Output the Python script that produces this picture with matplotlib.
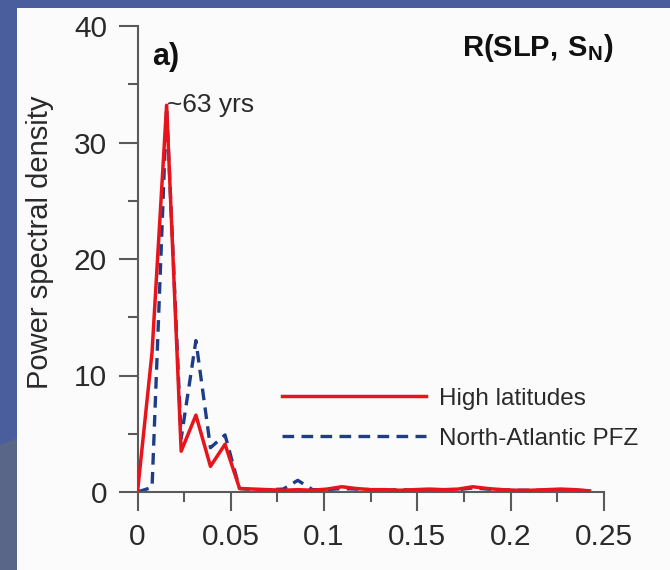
import matplotlib.pyplot as plt
from matplotlib.patches import Rectangle, Polygon

plt.rcParams['font.family'] = ['Liberation Sans', 'DejaVu Sans']
plt.rcParams['mathtext.fontset'] = 'custom'
plt.rcParams['mathtext.rm'] = 'Liberation Sans'
plt.rcParams['mathtext.bf'] = 'Liberation Sans:bold'

# frequency grid (cycles per year) and spectra
freq = [0.0, 0.0078, 0.0156, 0.0234, 0.0313, 0.0391, 0.0469, 0.0547,
        0.0625, 0.0703, 0.0781, 0.0859, 0.0938, 0.1016, 0.1094, 0.1172,
        0.125, 0.1328, 0.1406, 0.1484, 0.1563, 0.1641, 0.1719, 0.1797,
        0.1875, 0.1953, 0.2031, 0.2109, 0.2188, 0.2266, 0.2344, 0.2422]
psd_high = [0.0, 12.0, 33.2, 3.5, 6.6, 2.2, 4.1, 0.3,
            0.25, 0.2, 0.15, 0.2, 0.15, 0.25, 0.45, 0.3,
            0.2, 0.2, 0.15, 0.2, 0.25, 0.2, 0.25, 0.45,
            0.3, 0.2, 0.15, 0.15, 0.2, 0.25, 0.2, 0.1]
psd_pfz = [0.0, 0.4, 33.0, 4.6, 13.0, 3.8, 4.9, 0.3,
           0.2, 0.2, 0.25, 1.0, 0.2, 0.2, 0.3, 0.25,
           0.2, 0.15, 0.2, 0.15, 0.2, 0.2, 0.2, 0.35,
           0.25, 0.2, 0.15, 0.15, 0.15, 0.2, 0.15, 0.1]
xticks = [0, 0.05, 0.1, 0.15, 0.2, 0.25]
xticklabels = ['0', '0.05', '0.1', '0.15', '0.2', '0.25']
yticks = [0, 10, 20, 30, 40]
peak = 2  # index of the ~63 yr peak

W, H = 670, 570
fig = plt.figure(figsize=(W / 100, H / 100), dpi=100, facecolor='#4a5d9c')

# slide panel behind the plot
fig.patches.append(Rectangle((17 / W, 0), 1, 1 - 8 / H, transform=fig.transFigure,
                             facecolor='#fbfbfb', edgecolor='none', zorder=-2))
fig.patches.append(Polygon([(0, 0), (0, 1 - 445 / H), (17 / W, 1 - 438 / H), (17 / W, 0)],
                           closed=True, transform=fig.transFigure,
                           facecolor='#5a6688', edgecolor='none', zorder=-2))

ax = fig.add_axes([137.5 / W, 1 - 492 / H, 466.5 / W, 466 / H])
ax.set_zorder(1)
ax.patch.set_alpha(0)

ax.plot(freq, psd_pfz, color='#1f3d86', lw=2.4, ls=(0, (3.5, 2.2)),
        label='North-Atlantic PFZ', zorder=2)
ax.plot(freq, psd_high, color='#e8141c', lw=2.5, label='High latitudes', zorder=3)

ax.set_xlim(0, 0.25)
ax.set_ylim(0, 40)
ax.set_xticks(xticks)
ax.set_xticklabels(xticklabels)
ax.set_yticks(yticks)
ax.set_xticks([0.025, 0.075, 0.125, 0.175, 0.225], minor=True)
ax.set_yticks([5, 15, 25, 35], minor=True)

for side in ['top', 'right']:
    ax.spines[side].set_visible(False)
for side in ['left', 'bottom']:
    ax.spines[side].set_color('#5a5a5a')
    ax.spines[side].set_linewidth(1.5)

ax.tick_params(which='major', direction='out', length=14, width=1.5, color='#5a5a5a',
               labelsize=21.5, labelcolor='#2a2a2a', pad=8)
ax.tick_params(which='minor', direction='out', length=7, width=1.5, color='#5a5a5a')

ax.set_ylabel('Power spectral density', fontsize=21, color='#2a2a2a')
ax.yaxis.set_label_coords(-0.178, 0.536)

ax.text(0.031, 0.933, 'a)', transform=ax.transAxes, fontsize=22, fontweight='bold',
        color='#111111', va='center', ha='left')
ax.text(1.019, 0.953, r'$\mathbf{R(SLP,\,S_N)}$', transform=ax.transAxes, fontsize=21,
        color='#111111', va='center', ha='right')
ax.text(freq[peak], psd_high[peak], '~63 yrs', fontsize=19, color='#2a2a2a',
        va='center', ha='left')

handles, labels = ax.get_legend_handles_labels()
ax.legend(handles[::-1], labels[::-1], loc='upper left', bbox_to_anchor=(0.31, 0.224),
          frameon=False, fontsize=17.5, handlelength=5.9, handletextpad=0.55,
          labelspacing=0.75, borderpad=0, borderaxespad=0, labelcolor='#2a2a2a')

fig.savefig('out.png', dpi=100, facecolor=fig.get_facecolor())
